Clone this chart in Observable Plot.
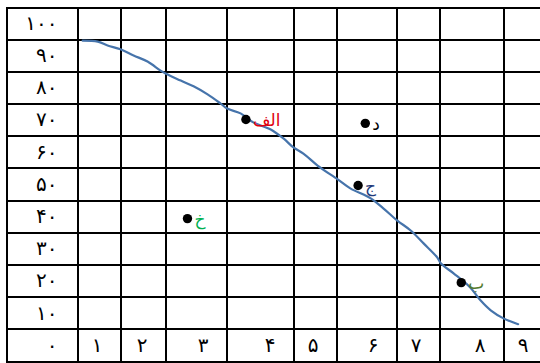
<!DOCTYPE html>
<html>
<head>
<meta charset="utf-8">
<script src="https://cdn.jsdelivr.net/npm/d3@7"></script>
<script src="https://cdn.jsdelivr.net/npm/@observablehq/plot@0.6"></script>
<style>
  html, body { margin: 0; padding: 0; background: #fff; }
</style>
</head>
<body>
<div id="chart"></div>
<script>
// Tick values (gridline values)
const xTicks = [1, 2, 3, 4, 5, 6, 7, 8, 9];
const yTicks = [0, 10, 20, 30, 40, 50, 60, 70, 80, 90, 100];

// Labelled points
const pointLabels = ["الف", "ب", "ج", "د", "خ"];
const pointX = [3.29, 7.34, 5.36, 5.48, 2.36];
const pointY = [65.2, 14.5, 44.7, 64.0, 34.4];
const pointColors = ["#e0000f", "#557a2e", "#1f3a7a", "#000000", "#00b050"];

// Hand-drawn curve
const curveX = [0.12, 0.47, 0.70, 1.00, 1.29, 1.60, 1.89, 2.00, 2.25, 2.46, 2.69, 2.90, 3.01, 3.21, 3.40, 3.66, 3.85, 4.00, 4.23, 4.56, 5.02, 5.23, 5.57, 5.78, 6.02, 6.33, 6.63, 6.95, 7.02, 7.22, 7.48, 7.64, 7.80, 8.00, 8.34];
const curveY = [89.7, 89.4, 88.2, 87.0, 85.1, 83.2, 80.4, 79.5, 77.3, 75.5, 73.0, 70.2, 68.6, 67.1, 64.3, 62.1, 59.3, 56.5, 54.6, 50.9, 46.6, 43.8, 40.7, 37.6, 33.8, 30.7, 26.7, 22.3, 20.5, 17.4, 13.0, 9.0, 5.9, 3.4, 1.6];

const fa = n => String(n).replace(/\d/g, d => "۰۱۲۳۴۵۶۷۸۹"[d]);

const points = pointLabels.map((l, i) => ({label: l, x: pointX[i], y: pointY[i], color: pointColors[i]}));
const curve = curveX.map((x, i) => ({x, y: curveY[i]}));

// Table gridlines: one column for the y labels, one row for the x labels
const xLines = [-1, ...[0, ...xTicks]];
const yLines = [-10, ...yTicks];

const font = "DejaVu Sans, sans-serif";

const chart = Plot.plot({
  width: 540,
  height: 363,
  marginTop: 7,
  marginBottom: 2,
  marginLeft: 6,
  marginRight: 0,
  style: {fontFamily: font, background: "white"},
  x: {type: "linear", domain: xLines, range: [6, 77, 120, 165, 226, 293, 336, 396, 439, 503, 546], axis: null},
  y: {domain: [-10, 100], axis: null},
  color: {type: "identity"},
  marks: [
    Plot.ruleX(xLines, {stroke: "black", strokeWidth: 2, shapeRendering: "crispEdges"}),
    Plot.ruleY(yLines, {stroke: "black", strokeWidth: 2, shapeRendering: "crispEdges"}),
    Plot.text(yTicks, {x: 0, y: d => d, text: d => fa(d), dx: -20, dy: 16, textAnchor: "end", fontSize: 20, fill: "black"}),
    Plot.text(xTicks, {x: d => d, y: 0, text: d => fa(d), dx: -18, dy: 16, textAnchor: "end", fontSize: 20, fill: "black"}),
    Plot.line(curve, {x: "x", y: "y", stroke: "#4674ab", strokeWidth: 2.2, curve: "catmull-rom"}),
    Plot.dot(points, {x: "x", y: "y", r: 4.7, fill: "black"}),
    Plot.text(points, {x: "x", y: "y", text: "label", fill: "color", dx: 7, dy: 1, textAnchor: "start", fontSize: 17})
  ]
});
document.getElementById("chart").append(chart);
</script>
</body>
</html>
